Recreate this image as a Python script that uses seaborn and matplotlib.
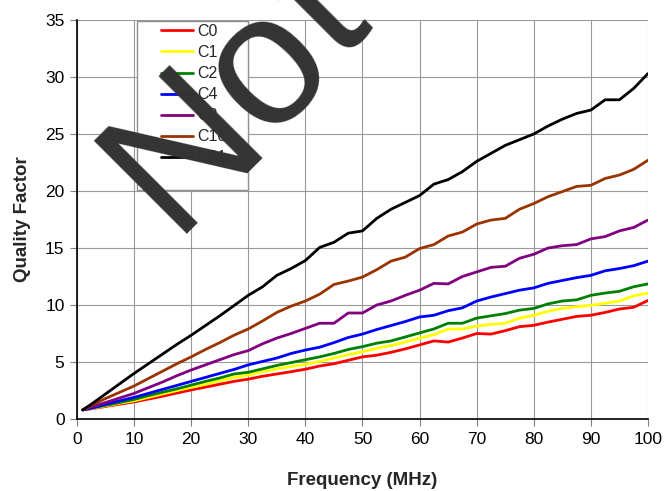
import seaborn as sns
import matplotlib.pyplot as plt
import pandas as pd
from matplotlib.patches import Rectangle

# frequency points (MHz)
freq = [1, 2.5, 5, 7.5, 10, 12.5, 15, 17.5, 20, 22.5, 25, 27.5, 30, 32.5, 35, 37.5,
        40, 42.5, 45, 47.5, 50, 52.5, 55, 57.5, 60, 62.5, 65, 67.5, 70, 72.5, 75,
        77.5, 80, 82.5, 85, 87.5, 90, 92.5, 95, 97.5, 100]

c0 = [0.8, 0.9, 1.1, 1.3, 1.5, 1.75, 2.0, 2.28, 2.55, 2.8, 3.05, 3.3, 3.5, 3.75, 3.95, 4.15,
      4.37, 4.65, 4.85, 5.15, 5.45, 5.6, 5.85, 6.15, 6.5, 6.85, 6.75, 7.1, 7.5, 7.45, 7.75,
      8.1, 8.22, 8.5, 8.75, 9.0, 9.1, 9.35, 9.65, 9.8, 10.4]
c1 = [0.8, 0.92, 1.15, 1.38, 1.6, 1.9, 2.2, 2.5, 2.78, 3.05, 3.35, 3.65, 3.85, 4.15, 4.4, 4.6,
      4.8, 5.05, 5.35, 5.65, 5.9, 6.2, 6.45, 6.75, 7.1, 7.4, 7.9, 7.9, 8.15, 8.3, 8.4,
      8.85, 9.1, 9.45, 9.7, 9.85, 9.97, 10.15, 10.35, 10.8, 11.05]
c2 = [0.8, 0.95, 1.2, 1.45, 1.72, 2.05, 2.35, 2.65, 2.97, 3.3, 3.6, 3.95, 4.1, 4.4, 4.7, 4.95,
      5.2, 5.45, 5.75, 6.1, 6.35, 6.65, 6.85, 7.2, 7.55, 7.9, 8.4, 8.4, 8.85, 9.05, 9.25,
      9.55, 9.7, 10.1, 10.35, 10.45, 10.85, 11.05, 11.2, 11.6, 11.85]
c4 = [0.8, 0.95, 1.3, 1.6, 1.9, 2.25, 2.6, 2.95, 3.3, 3.65, 4.0, 4.35, 4.75, 5.05, 5.35, 5.75,
      6.05, 6.3, 6.7, 7.15, 7.45, 7.85, 8.2, 8.55, 8.95, 9.1, 9.5, 9.75, 10.35, 10.7, 11.0,
      11.3, 11.5, 11.9, 12.15, 12.4, 12.6, 13.0, 13.2, 13.45, 13.85]
c8 = [0.8, 1.05, 1.45, 1.85, 2.25, 2.75, 3.25, 3.8, 4.3, 4.75, 5.2, 5.65, 6.0, 6.6, 7.1, 7.5,
      7.95, 8.4, 8.4, 9.3, 9.3, 10.0, 10.35, 10.85, 11.3, 11.9, 11.85, 12.5, 12.9, 13.3, 13.4,
      14.1, 14.45, 15.0, 15.2, 15.3, 15.8, 16.0, 16.5, 16.8, 17.45]
c16 = [0.8, 1.2, 1.8, 2.35, 2.9, 3.55, 4.2, 4.85, 5.45, 6.1, 6.7, 7.35, 7.9, 8.6, 9.35, 9.9,
       10.35, 10.95, 11.8, 12.1, 12.45, 13.1, 13.85, 14.2, 14.95, 15.3, 16.05, 16.4, 17.1, 17.45, 17.6,
       18.4, 18.9, 19.5, 19.95, 20.4, 20.5, 21.1, 21.4, 21.9, 22.7]
c31 = [0.8, 1.3, 2.2, 3.1, 4.0, 4.85, 5.7, 6.55, 7.35, 8.2, 9.05, 9.95, 10.85, 11.6, 12.6, 13.2,
       13.9, 15.05, 15.5, 16.3, 16.5, 17.6, 18.4, 19.0, 19.6, 20.6, 21.0, 21.7, 22.6, 23.3, 24.0,
       24.5, 25.0, 25.7, 26.3, 26.8, 27.1, 28.0, 28.0, 29.0, 30.3]

names = ["C0", "C1", "C2", "C4", "C8", "C16", "C31"]
colors = ["#ff0000", "#ffff00", "#008000", "#0000ff", "#800080", "#993300", "#000000"]
series = [c0, c1, c2, c4, c8, c16, c31]

df = pd.concat([pd.DataFrame({"freq": freq, "Q": s, "cap": n}) for n, s in zip(names, series)])

sns.set_theme(style="whitegrid")
plt.rcParams["font.family"] = ["Liberation Sans", "DejaVu Sans"]

fig = plt.figure(figsize=(6.65, 4.91), dpi=100)
ax = fig.add_axes([0.1158, 0.1466, 0.8586, 0.8127])
ax.set_facecolor("white")

sns.lineplot(data=df, x="freq", y="Q", hue="cap", hue_order=names,
             palette=colors, linewidth=2.0, errorbar=None, legend=False, ax=ax)

ax.set_xlim(0, 100)
ax.set_ylim(0, 35)
ax.set_xticks(range(0, 101, 10))
ax.set_yticks(range(0, 36, 5))
ax.grid(True, color="#999999", linewidth=0.8)
for side in ["top", "right"]:
    ax.spines[side].set_visible(False)
for side in ["left", "bottom"]:
    ax.spines[side].set_color("black")
    ax.spines[side].set_linewidth(1.2)
ax.tick_params(axis="both", which="major", labelsize=12.5, colors="#808080",
               labelcolor="black", length=5, width=0.8, direction="out",
               left=True, bottom=True, pad=4)

ax.set_xlabel("Frequency (MHz)", fontsize=13.5, fontweight="bold", labelpad=18)
ax.set_ylabel("Quality Factor", fontsize=13.5, fontweight="bold", labelpad=10)

# legend with its own frame
box = Rectangle((137 / 665, 1 - 190 / 491), 111 / 665, 169 / 491, transform=fig.transFigure,
                facecolor="white", edgecolor="#909090", linewidth=1.0, zorder=4)
ax.add_patch(box)
box.set_clip_on(False)
leg = ax.legend(ax.get_lines(), names, loc="upper left",
                bbox_to_anchor=(161 / 665, 1 - 24 / 491), bbox_transform=fig.transFigure,
                frameon=False, fontsize=11.5, handlelength=2.0, handletextpad=0.25,
                labelspacing=0.38, borderpad=0, borderaxespad=0)
leg.set_zorder(5)

# watermark, one letter at a time
for letter, (px, py), size in zip("Not", [(220, 185), (301, 102), (356, 44)], [138, 134, 134]):
    fig.text(px / 665, 1 - py / 491, letter, rotation=45, rotation_mode="anchor",
             ha="center", va="baseline", fontsize=size, color="#333333", zorder=10)

plt.savefig("out.png", dpi=100)
